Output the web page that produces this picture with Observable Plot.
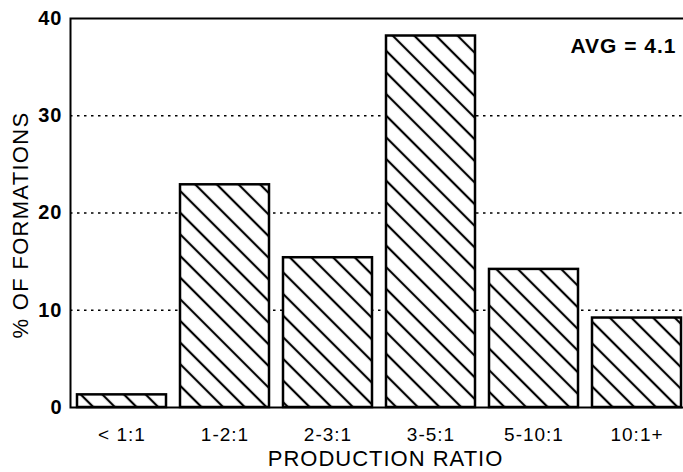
<!DOCTYPE html>
<html><head><meta charset="utf-8">
<script src="https://cdn.jsdelivr.net/npm/d3@7"></script>
<script src="https://cdn.jsdelivr.net/npm/@observablehq/plot@0.6"></script>
<style>body{margin:0;background:#fff}</style>
</head><body><div id="chart"></div>
<script>
const categories = ["< 1:1", "1-2:1", "2-3:1", "3-5:1", "5-10:1", "10:1+"];
const percents = [1.3, 22.9, 15.4, 38.2, 14.2, 9.2];
const yTicks = [0, 10, 20, 30, 40];
const gridLevels = [10, 20, 30];
const xTitle = "PRODUCTION RATIO";
const yTitle = "% OF FORMATIONS";
const avgNote = "AVG = 4.1";

const data = categories.map((c, i) => ({category: c, pct: percents[i]}));

const plot = Plot.plot({
  width: 683, height: 472,
  marginLeft: 70, marginRight: -3, marginTop: 18, marginBottom: 65,
  style: {fontFamily: "'Liberation Sans', Arial, sans-serif", color: "#000", background: "#fff", letterSpacing: "1px"},
  x: {domain: categories, range: [70, 688], paddingInner: 0.14, paddingOuter: 0.07, label: null, axis: null},
  y: {domain: [0, 40], label: null, axis: null},
  marks: [
    Plot.ruleY(gridLevels, {stroke: "#000", strokeWidth: 1.6, strokeDasharray: "2.5,4.5"}),
    Plot.barY(data, {x: "category", y: "pct", fill: "#fff"}),
    Plot.barY(data, {x: "category", y: "pct", fill: "url(#hatch)", stroke: "#000", strokeWidth: 2.5}),
    Plot.frame({stroke: "#000", strokeWidth: 2}),
    Plot.axisY(yTicks, {tickSize: 0, tickPadding: 8, fontSize: 20, fontWeight: "bold", label: null}),
    Plot.axisX({tickSize: 0, tickPadding: 20, fontSize: 20, label: null}),
    Plot.text([yTitle], {frameAnchor: "left", dx: -50, dy: 12, rotate: -90, textAnchor: "middle", lineAnchor: "middle", fontSize: 22}),
    Plot.text([xTitle], {frameAnchor: "bottom", dx: 7, dy: 51, textAnchor: "middle", lineAnchor: "middle", fontSize: 22}),
    Plot.text([avgNote], {frameAnchor: "top-right", dx: -10, dy: 28, textAnchor: "end", lineAnchor: "middle", fontSize: 21, fontWeight: "bold"})
  ]
});

const svg = d3.select(plot);
const defs = svg.insert("defs", ":first-child");
const pat = defs.append("pattern").attr("id", "hatch")
  .attr("patternUnits", "userSpaceOnUse")
  .attr("width", 15.3).attr("height", 15.3)
  .attr("patternTransform", "rotate(45)");
pat.append("line").attr("x1", 0).attr("y1", 7.65).attr("x2", 15.3).attr("y2", 7.65)
  .attr("stroke", "#000").attr("stroke-width", 2.2);

svg.selectAll("g[aria-label='x-axis tick label']").attr("font-size", 19).style("font-size", "19px");
svg.selectAll("g[aria-label='y-axis tick label']").attr("font-size", 20).style("font-size", "20px").attr("font-weight", "bold");
svg.selectAll("text").filter(function () { return this.textContent === yTitle; })
  .style("letter-spacing", "1.3px");

document.getElementById("chart").append(plot);
</script>
</body></html>
